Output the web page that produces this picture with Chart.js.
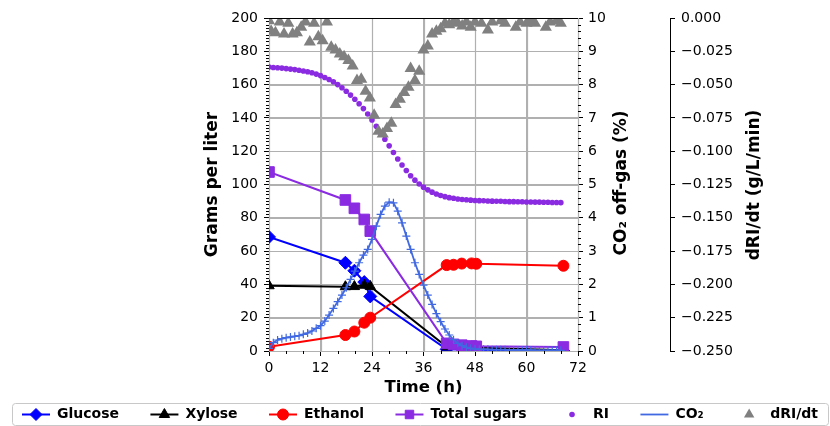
<!DOCTYPE html>
<html>
<head>
<meta charset="utf-8">
<script src="https://cdn.jsdelivr.net/npm/chart.js@4.4.0/dist/chart.umd.min.js"></script>
<style>
html,body{margin:0;padding:0;background:#fff;}
</style>
</head>
<body>
<canvas id="chartferm" width="830" height="426"></canvas>
<script>
// sampling times (h) for HPLC samples
var sampleTime = [0, 17.8, 19.9, 22.2, 23.6, 41.4, 43, 44.9, 47.2, 48.3, 68.6];
var glucose     = [68.5, 53, 48.2, 41.4, 32.8, 1.0, null, null, null, null, 0];
var xylose      = [39.2, 38.6, 38.7, 39.5, 38.8, 2.5, null, null, null, null, 0.5];
var ethanol     = [2.5, 9.6, 11.7, 17, 20, 51.6, 51.8, 52.5, 52.6, 52.4, 51.2];
var totalSugars = [107.5, 90.7, 85.7, 79, 72, 4.6, 4.0, 3.5, 3.0, 2.8, 2.4];

// RI (g/L), hourly
var riTime = [0,1,2,3,4,5,6,7,8,9,10,11,12,13,14,15,16,17,18,19,20,21,22,23,24,25,26,27,28,29,30,31,32,33,34,
              35,36,37,38,39,40,41,42,43,44,45,46,47,48,49,50,51,52,53,54,55,56,57,58,59,60,61,62,63,64,65,66,67,68];
var riVal = [170.5,170.3,170.1,169.9,169.6,169.3,169.0,168.6,168.2,167.7,167.1,166.3,165.4,164.3,163.1,161.7,160.0,158.1,156.0,153.7,
             151.2,148.5,145.6,142.3,138.8,135.0,131.1,127.2,123.2,119.2,115.3,111.7,108.4,105.3,102.6,100.3,98.4,96.8,95.4,94.3,
             93.4,92.7,92.1,91.7,91.3,91.0,90.8,90.6,90.4,90.3,90.2,90.1,90.0,89.9,89.9,89.8,89.7,89.7,89.6,89.6,
             89.5,89.5,89.4,89.4,89.3,89.3,89.2,89.2,89.1];

// CO2 off-gas (%), hourly
var co2Time = riTime;
var co2Val = [0.08,0.25,0.33,0.37,0.40,0.42,0.44,0.46,0.50,0.54,0.60,0.68,0.76,0.90,1.08,1.28,1.48,1.68,1.90,2.15,
              2.40,2.65,2.88,3.05,3.35,3.75,4.10,4.35,4.47,4.45,4.20,3.85,3.45,3.05,2.65,2.30,1.98,1.68,1.40,1.12,
              0.88,0.66,0.48,0.34,0.23,0.16,0.11,0.08,0.06,0.05,0.05,0.05,0.04,0.04,0.04,0.04,0.03,0.03,0.03,0.03,
              0.03,0.03,0.02,0.02,0.02,0.02,0.02,0.02,0.02];

// dRI/dt (g/L/min)
var drTime = [0,0.5,1.5,2.5,3.5,4.5,5.5,6.5,7.5,8.5,9.5,10.5,11.5,12.5,13.5,14.5,15.5,16.5,17.5,18.5,19.5,20.5,21.5,22.5,23.5,
              24.5,25.5,26.5,27.5,28.5,29.5,30.5,31.5,32.5,33,34,35,36,37,38,39,40,41,42,43,44,45,46,47,48,49.5,51,52,54,55,
              57.5,58.5,60,61,62,64.5,65.5,67,68];
var drVal = [-0.002,-0.010,-0.011,-0.003,-0.012,-0.004,-0.012,-0.011,-0.007,-0.003,-0.018,-0.004,-0.014,-0.017,-0.003,-0.022,
             -0.024,-0.027,-0.029,-0.032,-0.036,-0.047,-0.046,-0.055,-0.060,-0.073,-0.085,-0.087,-0.083,-0.079,-0.065,-0.061,
             -0.056,-0.052,-0.038,-0.047,-0.040,-0.024,-0.021,-0.012,-0.010,-0.008,-0.004,-0.005,-0.003,-0.004,-0.006,-0.003,
             -0.007,-0.003,-0.004,-0.009,-0.003,-0.002,-0.004,-0.007,-0.003,-0.004,-0.002,-0.004,-0.007,-0.003,-0.002,-0.004];

function pts(t, v){
    var out = [];
    for (var i = 0; i < t.length; i++) { out.push({x: t[i], y: v[i]}); }
    return out;
}

var FONT = "'DejaVu Sans', sans-serif";
Chart.defaults.font.family = FONT;
Chart.defaults.color = '#000';

var gridLines = {
    id: 'gridLines',
    beforeDatasetsDraw: function(chart){
        var ctx = chart.ctx, a = chart.chartArea;
        ctx.save();
        ctx.strokeStyle = '#b0b0b0';
        ctx.lineWidth = 1.2;
        ctx.beginPath();
        chart.scales.x.ticks.forEach(function(t){
            var p = Math.round(chart.scales.x.getPixelForValue(t.value)) + 0.5;
            ctx.moveTo(p, a.top); ctx.lineTo(p, a.bottom);
        });
        chart.scales.y.ticks.forEach(function(t){
            var p = Math.round(chart.scales.y.getPixelForValue(t.value)) + 0.5;
            ctx.moveTo(a.left, p); ctx.lineTo(a.right, p);
        });
        ctx.stroke();
        ctx.restore();
    }
};

var extras = {
    id: 'extras',
    afterDraw: function(chart){
        var ctx = chart.ctx, a = chart.chartArea;
        var sx = chart.scales.x, sy = chart.scales.y, sy1 = chart.scales.y1;
        ctx.save();
        ctx.strokeStyle = '#000';
        ctx.lineWidth = 1;
        // frame
        ctx.beginPath();
        ctx.moveTo(a.left, Math.round(a.top) + 0.5);
        ctx.lineTo(a.right, Math.round(a.top) + 0.5);
        ctx.stroke();
        // minor ticks
        ctx.beginPath();
        var v, p;
        for (v = 0; v <= 72; v += 4) {
            if (v % 12 === 0) continue;
            p = Math.round(sx.getPixelForValue(v)) + 0.5;
            ctx.moveTo(p, a.bottom); ctx.lineTo(p, a.bottom + 3);
        }
        for (v = 0; v <= 200; v += 2) {
            if (v % 20 === 0) continue;
            p = Math.round(sy.getPixelForValue(v)) + 0.5;
            ctx.moveTo(a.left, p); ctx.lineTo(a.left - 3, p);
        }
        for (v = 0; v <= 50; v += 1) {
            if (v % 5 === 0) continue;
            p = Math.round(sy1.getPixelForValue(v / 5)) + 0.5;
            ctx.moveTo(a.right, p); ctx.lineTo(a.right + 3, p);
        }
        ctx.stroke();

        // right-hand axis titles, reading bottom to top
        ctx.fillStyle = '#000';
        ctx.font = 'bold 17px ' + FONT;
        ctx.textAlign = 'center';
        ctx.textBaseline = 'middle';
        var titles = [['CO\u2082 off-gas (%)', 622, 183], ['dRI/dt (g/L/min)', 755, 185]];
        for (var k = 0; k < titles.length; k++) {
            ctx.save();
            ctx.translate(titles[k][1], titles[k][2]);
            ctx.rotate(-Math.PI / 2);
            ctx.fillText(titles[k][0], 0, 0);
            ctx.restore();
        }

        // legend
        var ds = chart.data.datasets;
        var bx = 12, by = 403, bw = 816, bh = 22, pad = 10, hl = 28, tp = 7;
        ctx.font = 'bold 14px ' + FONT;
        var widths = [], sum = 0;
        for (k = 0; k < ds.length; k++) {
            widths[k] = hl + tp + ctx.measureText(ds[k].label).width;
            sum += widths[k];
        }
        var gap = (bw - 2 * pad - sum) / (ds.length - 1);
        ctx.strokeStyle = '#c8c8c8';
        ctx.beginPath();
        ctx.roundRect(bx + 0.5, by + 0.5, bw, bh, 3);
        ctx.stroke();
        var x = bx + pad, cy = by + bh / 2 + 0.5;
        ctx.textAlign = 'left';
        for (k = 0; k < ds.length; k++) {
            var d = ds[k];
            if (d.showLine !== false) {
                ctx.strokeStyle = d.borderColor;
                ctx.lineWidth = d.borderWidth;
                ctx.beginPath();
                ctx.moveTo(x, cy); ctx.lineTo(x + hl, cy);
                ctx.stroke();
            }
            if (d.legendMarker !== false) {
                ctx.fillStyle = d.pointBackgroundColor;
                ctx.strokeStyle = d.pointBorderColor;
                ctx.lineWidth = d.pointBorderWidth;
                Chart.helpers.drawPoint(ctx, {pointStyle: d.pointStyle, rotation: 0,
                    radius: Math.min(d.pointRadius, 6), borderWidth: d.pointBorderWidth}, x + hl / 2, cy);
            }
            ctx.fillStyle = '#000';
            ctx.fillText(d.label, x + hl + tp, cy);
            x += widths[k] + gap;
        }
        ctx.restore();
    }
};

var ctx_chart = document.getElementById('chartferm').getContext('2d');
var chart = new Chart(ctx_chart, {
    type: 'line',
    data: {
        datasets: [{
            label: 'Glucose', data: pts(sampleTime, glucose), yAxisID: 'y', order: 7, spanGaps: true,
            borderColor: '#0000ff', borderWidth: 2, pointStyle: 'rectRot', pointRadius: 6.5,
            pointBackgroundColor: '#0000ff', pointBorderColor: '#0000ff', pointBorderWidth: 1
        }, {
            label: 'Xylose', data: pts(sampleTime, xylose), yAxisID: 'y', order: 6, spanGaps: true,
            borderColor: '#000000', borderWidth: 2, pointStyle: 'triangle', pointRadius: 6,
            pointBackgroundColor: '#000000', pointBorderColor: '#000000', pointBorderWidth: 1
        }, {
            label: 'Ethanol', data: pts(sampleTime, ethanol), yAxisID: 'y', order: 5,
            borderColor: '#ff0000', borderWidth: 2, pointStyle: 'circle', pointRadius: 5.5,
            pointBackgroundColor: '#ff0000', pointBorderColor: '#ff0000', pointBorderWidth: 1
        }, {
            label: 'Total sugars', data: pts(sampleTime, totalSugars), yAxisID: 'y', order: 4,
            borderColor: '#8a2be2', borderWidth: 2, pointStyle: 'rect', pointRadius: 7.5,
            pointBackgroundColor: '#8a2be2', pointBorderColor: '#8a2be2', pointBorderWidth: 1
        }, {
            label: 'RI', data: pts(riTime, riVal), yAxisID: 'y', order: 3, showLine: false,
            borderColor: '#8a2be2', borderWidth: 0, pointStyle: 'circle', pointRadius: 2.8,
            pointBackgroundColor: '#8a2be2', pointBorderColor: '#8a2be2', pointBorderWidth: 0
        }, {
            label: 'CO\u2082', data: pts(co2Time, co2Val), yAxisID: 'y1', order: 2, legendMarker: false,
            borderColor: '#4169e1', borderWidth: 1.8, pointStyle: 'cross', pointRadius: 4,
            pointBackgroundColor: '#4169e1', pointBorderColor: '#4169e1', pointBorderWidth: 1.2
        }, {
            label: 'dRI/dt', data: pts(drTime, drVal), yAxisID: 'y2', order: 1, showLine: false,
            borderColor: '#808080', borderWidth: 0, pointStyle: 'triangle', pointRadius: 7,
            pointBackgroundColor: '#808080', pointBorderColor: '#808080', pointBorderWidth: 0
        }]
    },
    options: {
        responsive: false,
        animation: false,
        devicePixelRatio: 1,
        clip: 0,
        elements: { line: { tension: 0 } },
        layout: { padding: { left: 195, top: 18, right: 0, bottom: 0 } },
        plugins: { legend: { display: false }, tooltip: { enabled: false } },
        scales: {
            x: {
                type: 'linear', min: 0, max: 72,
                afterFit: function(s){ s.height = 75; },
                ticks: { stepSize: 12, padding: 4, font: { size: 14 }, maxRotation: 0 },
                grid: { color: '#b0b0b0', tickColor: '#000', tickLength: 5 },
                border: { color: '#000', width: 1 },
                title: { display: true, text: 'Time (h)', font: { size: 16.5, weight: 'bold' }, padding: { top: 0, bottom: 28 } }
            },
            y: {
                position: 'left', min: 0, max: 200,
                afterFit: function(s){ s.width = 74; },
                ticks: { stepSize: 20, padding: 6, font: { size: 14 } },
                grid: { color: '#b0b0b0', tickColor: '#000', tickLength: 5 },
                border: { color: '#000', width: 1 },
                title: { display: true, text: 'Grams per liter', font: { size: 17, weight: 'bold' }, padding: { top: 7, bottom: 0 } }
            },
            y1: {
                position: 'right', min: 0, max: 10, weight: 0,
                afterFit: function(s){ s.width = 92; },
                ticks: { stepSize: 1, padding: 5, font: { size: 14 } },
                grid: { drawOnChartArea: false, tickColor: '#000', tickLength: 5 },
                border: { color: '#000', width: 1 }
            },
            y2: {
                position: 'right', min: -0.25, max: 0, weight: 1,
                afterFit: function(s){ s.width = 160; },
                ticks: {
                    stepSize: 0.025, padding: 6, autoSkip: false, font: { size: 14 },
                    callback: function(v){
                        var r = Math.round(v * 1000) / 1000;
                        return r === 0 ? '0.000' : '\u2212' + Math.abs(r).toFixed(3);
                    }
                },
                grid: { drawOnChartArea: false, tickColor: '#000', tickLength: 5 },
                border: { color: '#000', width: 1 }
            }
        }
    },
    plugins: [gridLines, extras]
});
</script>
</body>
</html>
